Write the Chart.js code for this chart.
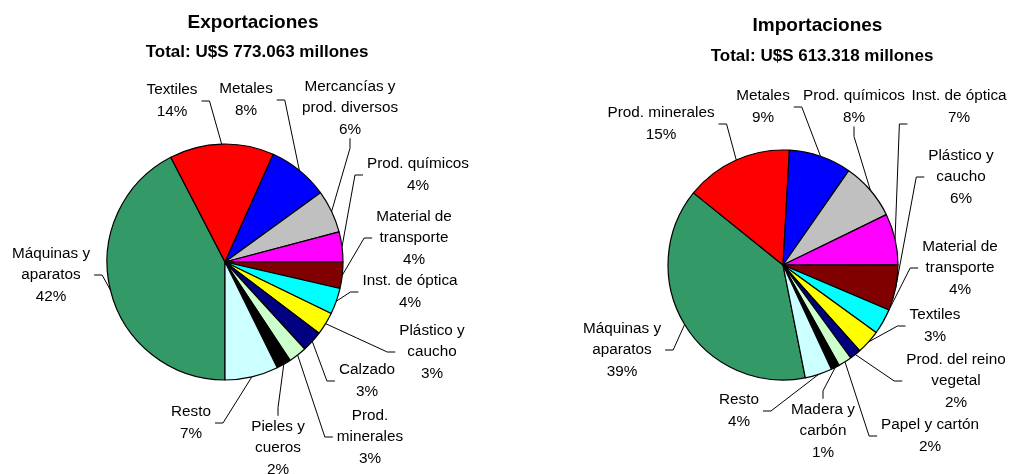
<!DOCTYPE html>
<html>
<head>
<meta charset="utf-8">
<script src="https://cdn.jsdelivr.net/npm/chart.js@4.4.1/dist/chart.umd.min.js"></script>
<style>
  body { margin: 0; background: #fff; }
  .wrap { position: relative; width: 1009px; height: 474px; }
  canvas { position: absolute; top: 0; }
  #chartExp { left: 0; }
  #chartImp { left: 504px; }
</style>
</head>
<body>
<div class="wrap">
  <canvas id="chartExp" width="504" height="474"></canvas>
  <canvas id="chartImp" width="505" height="474"></canvas>
</div>
<script>
// Exportaciones
const expCategories = ['Máquinas y\naparatos', 'Textiles', 'Metales', 'Mercancías y\nprod. diversos',
  'Prod. químicos', 'Material de\ntransporte', 'Inst. de óptica', 'Plástico y\ncaucho',
  'Calzado', 'Prod.\nminerales', 'Pieles y\ncueros', 'Resto'];
const expValues = [42.4, 14.3, 8.3, 5.9, 4.1, 3.6, 3.6, 3.1, 2.9, 2.5, 2.0, 7.3];
const expPct = ['42%', '14%', '8%', '6%', '4%', '4%', '4%', '3%', '3%', '3%', '2%', '7%'];

// Importaciones
const impCategories = ['Máquinas y\naparatos', 'Prod. minerales', 'Metales', 'Prod. químicos',
  'Inst. de óptica', 'Plástico y\ncaucho', 'Material de\ntransporte', 'Textiles',
  'Prod. del reino\nvegetal', 'Papel y cartón', 'Madera y\ncarbón', 'Resto'];
const impValues = [38.9, 15.1, 8.8, 8.1, 7.2, 6.4, 3.6, 3.4, 1.6, 1.9, 1.2, 3.8];
const impPct = ['39%', '15%', '9%', '8%', '7%', '6%', '4%', '3%', '2%', '2%', '1%', '4%'];

const colors = ['#339966', '#FF0000', '#0000FF', '#C0C0C0', '#FF00FF', '#800000',
  '#00FFFF', '#FFFF00', '#000080', '#CCFFCC', '#000000', '#CCFFFF'];

// label placement: offset from pie centre, side where the leader leaves, extra y for leader
const expLayout = [
  [-174, 13, 'right'], [-53, -161, 'right'], [21, -162, 'right'], [125, -154, 'bottom'],
  [193, -87, 'left'], [189, -24, 'left'], [185, 30, 'left'], [207, 90, 'left'],
  [142, 119, 'left'], [145, 175, 'left'], [53, 186, 'top'], [-34, 161, 'right']
];
const impLayout = [
  [-161, 85, 'right'], [-122, -141, 'right'], [-20, -158, 'right'], [71, -158, 'bottom'],
  [176, -158, 'left', 17], [178, -88, 'left'], [177, 3, 'left'], [152, 61, 'left'],
  [173, 116, 'left'], [147, 171, 'left'], [40, 166, 'top'], [-44, 146, 'right']
];

const FONT = '"Liberation Sans", Arial, sans-serif';

function labelPlugin(cfg) {
  return {
    id: 'pieLabels',
    afterDatasetsDraw(chart) {
      const ctx = chart.ctx;
      const arcs = chart.getDatasetMeta(0).data;
      ctx.save();
      ctx.fillStyle = '#000';
      ctx.textAlign = 'center';
      ctx.textBaseline = 'middle';
      ctx.font = 'bold 19px ' + FONT;
      ctx.fillText(cfg.title, cfg.titlePos[0], cfg.titlePos[1]);
      ctx.font = 'bold 17px ' + FONT;
      ctx.fillText(cfg.subtitle, cfg.subPos[0], cfg.subPos[1]);

      ctx.font = '15.3px ' + FONT;
      ctx.strokeStyle = '#000';
      ctx.lineWidth = 1;
      const lh = 21.5;
      arcs.forEach((arc, i) => {
        const lay = cfg.layout[i];
        const lines = chart.data.labels[i].split('\n').concat(cfg.pct[i]);
        const h = lines.length * lh;
        const cx = arc.x + lay[0], cy = arc.y + lay[1];
        const w = Math.max(...lines.map(t => ctx.measureText(t).width));
        lines.forEach((t, k) => ctx.fillText(t, cx, cy - h / 2 + lh / 2 + k * lh));

        let ax, ay, bx, by;
        const side = lay[2];
        if (side === 'right') { ax = cx + w / 2 + 4; ay = cy + (lay[3] || 0); bx = ax + 8; by = ay; }
        else if (side === 'left') { ax = cx - w / 2 - 4; ay = cy + (lay[3] || 0); bx = ax - 8; by = ay; }
        else if (side === 'top') { ax = cx; ay = cy - h / 2; bx = ax; by = ay - 8; }
        else { ax = cx; ay = cy + h / 2 - 2; bx = ax; by = ay + 10; }
        const mid = (arc.startAngle + arc.endAngle) / 2;
        const px = arc.x + Math.cos(mid) * arc.outerRadius;
        const py = arc.y + Math.sin(mid) * arc.outerRadius;
        ctx.beginPath();
        ctx.moveTo(ax, ay);
        ctx.lineTo(bx, by);
        ctx.lineTo(px, py);
        ctx.stroke();
      });
      ctx.restore();
    }
  };
}

function makePie(id, labels, values, radius, rotation, padding, plugin) {
  return new Chart(document.getElementById(id), {
    type: 'pie',
    data: {
      labels: labels,
      datasets: [{
        data: values,
        backgroundColor: colors,
        borderColor: '#000',
        borderWidth: 1.2,
        hoverOffset: 0
      }]
    },
    options: {
      responsive: false,
      animation: false,
      events: [],
      radius: radius,
      rotation: rotation,
      layout: { padding: padding },
      plugins: {
        legend: { display: false },
        tooltip: { enabled: false },
        title: { display: false }
      }
    },
    plugins: [plugin]
  });
}

makePie('chartExp', expCategories, expValues, 118, 180,
  { left: 0, right: 54, top: 50, bottom: 0 },
  labelPlugin({
    title: 'Exportaciones', titlePos: [253, 23],
    subtitle: 'Total: U$S 773.063 millones', subPos: [257, 52],
    layout: expLayout, pct: expPct
  }));

makePie('chartImp', impCategories, impValues, 115, 168.8,
  { left: 53, right: 0, top: 56, bottom: 0 },
  labelPlugin({
    title: 'Importaciones', titlePos: [313.5, 26],
    subtitle: 'Total: U$S 613.318 millones', subPos: [318, 56],
    layout: impLayout, pct: impPct
  }));
</script>
</body>
</html>
